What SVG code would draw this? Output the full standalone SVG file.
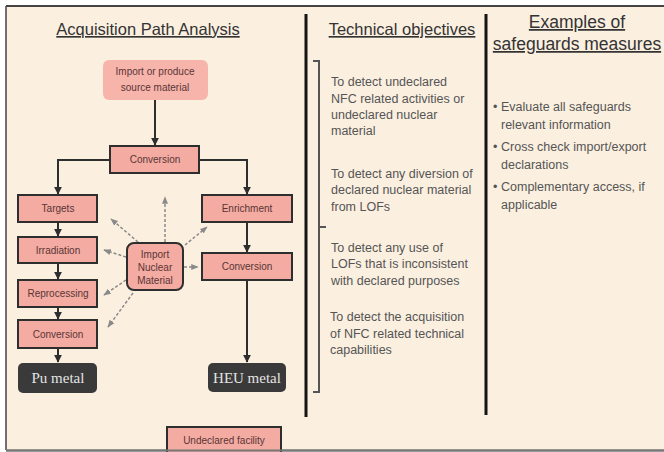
<svg xmlns="http://www.w3.org/2000/svg" width="664" height="452" viewBox="0 0 664 452">
  <style>
    .head { font-family: "Liberation Sans", Arial, sans-serif; font-size: 16.5px; fill: #333; text-decoration: underline; }
    .body { font-family: "Liberation Sans", Arial, sans-serif; font-size: 12.5px; fill: #555; }
    .lbl { font-family: "Liberation Sans", Arial, sans-serif; font-size: 10px; fill: #5a3535; text-anchor: middle; }
    .metal { font-family: "Liberation Serif", "Times New Roman", serif; font-size: 15px; fill: #e4e4e4; text-anchor: middle; }
    .box { fill: #F3ABA2; stroke: #2e2e2e; stroke-width: 2; }
    .soft { fill: #F6B4AB; }
    .dark { fill: #3a3a3a; }
    .flow { fill: none; stroke: #2e2e2e; stroke-width: 2; }
    .dash { fill: none; stroke: #8a8a8a; stroke-width: 1.5; stroke-dasharray: 3 2; }
    .rule { stroke: #151515; stroke-width: 3; }
  </style>
  <defs>
    <marker id="arr" viewBox="0 0 10 10" refX="9" refY="5" markerWidth="4" markerHeight="4" orient="auto">
      <path d="M0,0 L10,5 L0,10 z" fill="#2e2e2e"/>
    </marker>
    <marker id="arrd" viewBox="0 0 10 10" refX="9" refY="5" markerWidth="5" markerHeight="5" orient="auto">
      <path d="M0,1 L10,5 L0,9 z" fill="#8a8a8a"/>
    </marker>
  </defs>

  <!-- page and frame -->
  <rect width="664" height="452" fill="#fff"/>
  <rect x="6" y="6" width="660" height="444" fill="#FBEFE0"/>
  <line x1="6" y1="6" x2="664" y2="6" stroke="#444" stroke-width="2"/>
  <line x1="6" y1="6" x2="6" y2="450" stroke="#444" stroke-width="1.5"/>
  <line x1="6" y1="450.5" x2="664" y2="450.5" stroke="#777" stroke-width="2"/>

  <!-- column headings -->
  <text class="head" x="148" y="35" text-anchor="middle">Acquisition Path Analysis</text>
  <text class="head" x="402" y="35" text-anchor="middle">Technical objectives</text>
  <text class="head" x="577" y="28" text-anchor="middle" style="font-size:17.5px">Examples of</text>
  <text class="head" x="577" y="50" text-anchor="middle" style="font-size:17.5px">safeguards measures</text>

  <!-- column dividers and bracket -->
  <line class="rule" x1="306" y1="14" x2="306" y2="417"/>
  <line class="rule" x1="486" y1="14" x2="486" y2="415"/>
  <path d="M313,61 H319 V392 H313 M319,227 H326" fill="none" stroke="#555" stroke-width="2"/>

  <!-- technical objectives -->
  <g class="body">
    <text x="331" y="86">To detect undeclared</text>
    <text x="331" y="103">NFC related activities or</text>
    <text x="331" y="119">undeclared nuclear</text>
    <text x="331" y="135">material</text>
    <text x="331" y="178">To detect any diversion of</text>
    <text x="331" y="194">declared nuclear material</text>
    <text x="331" y="211">from LOFs</text>
    <text x="331" y="252">To detect any use of</text>
    <text x="331" y="268">LOFs that is inconsistent</text>
    <text x="331" y="285">with declared purposes</text>
    <text x="330" y="321">To detect the acquisition</text>
    <text x="330" y="338">of NFC related technical</text>
    <text x="330" y="354">capabilities</text>
  </g>

  <!-- safeguards measures -->
  <g class="body">
    <text x="493" y="111">•</text><text x="501" y="111">Evaluate all safeguards</text>
    <text x="501" y="129">relevant information</text>
    <text x="493" y="151">•</text><text x="501" y="151">Cross check import/export</text>
    <text x="501" y="169">declarations</text>
    <text x="493" y="191">•</text><text x="501" y="191">Complementary access, if</text>
    <text x="501" y="209">applicable</text>
  </g>

  <!-- connectors -->
  <g id="connectors">
    <path class="flow" d="M155,100 V145" marker-end="url(#arr)"/>
    <path class="flow" d="M110,160 H58 V194" marker-end="url(#arr)"/>
    <path class="flow" d="M199,160 H247 V194" marker-end="url(#arr)"/>
    <path class="flow" d="M58,222 V236" marker-end="url(#arr)"/>
    <path class="flow" d="M58,263 V279" marker-end="url(#arr)"/>
    <path class="flow" d="M58,307 V319" marker-end="url(#arr)"/>
    <path class="flow" d="M58,348 V362" marker-end="url(#arr)"/>
    <path class="flow" d="M247,222 V252" marker-end="url(#arr)"/>
    <path class="flow" d="M247,280 V362" marker-end="url(#arr)"/>
    <path class="dash" d="M165,242 V197" marker-end="url(#arrd)"/>
    <path class="dash" d="M138,242 L111,219" marker-end="url(#arrd)"/>
    <path class="dash" d="M126,257 L104,250" marker-end="url(#arrd)"/>
    <path class="dash" d="M126,280 L104,295" marker-end="url(#arrd)"/>
    <path class="dash" d="M133,293 L108,327" marker-end="url(#arrd)"/>
    <path class="dash" d="M185,245 L207,227" marker-end="url(#arrd)"/>
    <path class="dash" d="M184,267 L198,267" marker-end="url(#arrd)"/>
  </g>

  <!-- nodes -->
  <g id="source">
    <rect class="soft" x="103" y="60" width="105" height="40" rx="6"/>
    <text class="lbl" x="155" y="75">Import or produce</text>
    <text class="lbl" x="155" y="91">source material</text>
  </g>
  <g id="conversion-top">
    <rect class="box" x="110" y="146" width="89" height="27"/>
    <text class="lbl" x="155" y="163">Conversion</text>
  </g>
  <g id="targets">
    <rect class="box" x="18" y="195" width="79" height="27"/>
    <text class="lbl" x="58" y="212">Targets</text>
  </g>
  <g id="irradiation">
    <rect class="box" x="18" y="237" width="79" height="26"/>
    <text class="lbl" x="58" y="254">Irradiation</text>
  </g>
  <g id="reprocessing">
    <rect class="box" x="18" y="280" width="79" height="27"/>
    <text class="lbl" x="58" y="297">Reprocessing</text>
  </g>
  <g id="conversion-pu">
    <rect class="box" x="18" y="320" width="79" height="28"/>
    <text class="lbl" x="58" y="338">Conversion</text>
  </g>
  <g id="pu-metal">
    <rect class="dark" x="18" y="363" width="79" height="30" rx="5"/>
    <text class="metal" x="58" y="383">Pu metal</text>
  </g>
  <g id="enrichment">
    <rect class="box" x="202" y="195" width="90" height="27"/>
    <text class="lbl" x="247" y="212">Enrichment</text>
  </g>
  <g id="conversion-heu">
    <rect class="box" x="202" y="253" width="90" height="27"/>
    <text class="lbl" x="247" y="270">Conversion</text>
  </g>
  <g id="heu-metal">
    <rect class="dark" x="208" y="363" width="78" height="29" rx="5"/>
    <text class="metal" x="247" y="383">HEU metal</text>
  </g>
  <g id="import-nuclear">
    <rect class="box" x="127" y="243" width="56" height="47" rx="7"/>
    <text class="lbl" x="155" y="258">Import</text>
    <text class="lbl" x="155" y="271">Nuclear</text>
    <text class="lbl" x="155" y="284">Material</text>
  </g>
  <g id="undeclared">
    <rect class="box" x="167" y="427" width="114" height="30"/>
    <text class="lbl" x="224" y="444">Undeclared facility</text>
  </g>
  <line x1="6" y1="450.5" x2="664" y2="450.5" stroke="#777" stroke-width="2"/>
</svg>
